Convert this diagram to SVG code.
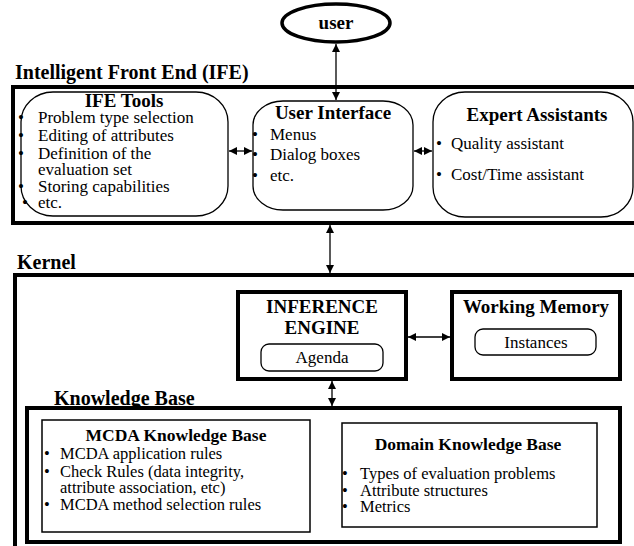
<svg xmlns="http://www.w3.org/2000/svg" width="634" height="546" viewBox="0 0 634 546" font-family="'Liberation Serif', 'DejaVu Serif', 'Times New Roman', serif">
<style>
text{font-family:'Liberation Serif','DejaVu Serif','Times New Roman',serif;fill:#000}
.sec{font-size:20px;font-weight:bold}
.ttl{font-size:19px;font-weight:bold}
.sub{font-size:17.5px;font-weight:bold}
.b17{font-size:17px}
.b16{font-size:16.5px}
.mid{text-anchor:middle}
.thick{fill:none;stroke:#000;stroke-width:4}
.thin{fill:#fff;stroke:#000;stroke-width:1.3}
.conn{stroke:#000;stroke-width:1.3;fill:none;marker-start:url(#ah);marker-end:url(#ah)}
</style>
<defs>
<marker id="ah" viewBox="0 0 10 10" refX="10" refY="5" markerWidth="9" markerHeight="8" markerUnits="userSpaceOnUse" orient="auto-start-reverse">
<path d="M0,0 L10,5 L0,10 z" fill="#000"/>
</marker>
</defs>
<rect width="634" height="546" fill="#fff"/>

<g id="user">
<ellipse cx="336" cy="23" rx="54" ry="19" fill="#fff" stroke="#000" stroke-width="3.5"/>
<text class="ttl mid" x="336" y="29">user</text>
</g>

<g id="ife">
<text class="sec" x="15" y="79">Intelligent Front End (IFE)</text>
<rect class="thick" x="13" y="87" width="630" height="136"/>
</g>

<g id="ife-tools">
<rect class="thin" x="21" y="92" width="207" height="124" rx="32" ry="30"/>
<text class="ttl mid" x="124" y="107">IFE Tools</text>
<text class="b17" x="18" y="123">•</text><text class="b17" x="38" y="123">Problem type selection</text>
<text class="b17" x="18" y="141">•</text><text class="b17" x="38" y="141">Editing of attributes</text>
<text class="b17" x="18" y="159">•</text><text class="b17" x="38" y="159">Definition of the</text>
<text class="b17" x="38" y="175">evaluation set</text>
<text class="b17" x="18" y="192">•</text><text class="b17" x="38" y="192">Storing capabilities</text>
<text class="b17" x="22" y="208">•</text><text class="b17" x="38" y="208">etc.</text>
</g>

<g id="user-interface">
<rect class="thin" x="253" y="101" width="160" height="109" rx="30" ry="24"/>
<text class="ttl mid" x="333" y="119">User Interface</text>
<text class="b17" x="252" y="140">•</text><text class="b17" x="270" y="140">Menus</text>
<text class="b17" x="252" y="160">•</text><text class="b17" x="270" y="160">Dialog boxes</text>
<text class="b17" x="252" y="181">•</text><text class="b17" x="270" y="181">etc.</text>
</g>

<g id="expert-assistants">
<rect class="thin" x="433" y="92" width="200" height="125" rx="32" ry="30"/>
<text class="ttl mid" x="537" y="121">Expert Assistants</text>
<text class="b17" x="436" y="149">•</text><text class="b17" x="451" y="149">Quality assistant</text>
<text class="b17" x="436" y="180">•</text><text class="b17" x="451" y="180">Cost/Time assistant</text>
</g>

<g id="kernel">
<text class="sec" x="17" y="269">Kernel</text>
<rect class="thick" x="15" y="275" width="630" height="290"/>
</g>

<g id="inference-engine">
<rect class="thick" x="238" y="292" width="168" height="87" fill="#fff"/>
<text class="ttl mid" x="322" y="313">INFERENCE</text>
<text class="ttl mid" x="322" y="334">ENGINE</text>
<rect class="thin" x="261" y="344" width="122" height="27" rx="8"/>
<text class="b17 mid" x="322" y="363" font-size="18">Agenda</text>
</g>

<g id="working-memory">
<rect class="thick" x="452" y="292" width="168" height="87"/>
<text class="ttl mid" x="536" y="313">Working Memory</text>
<rect class="thin" x="475" y="329" width="121" height="26" rx="8"/>
<text class="b17 mid" x="536" y="348" font-size="18">Instances</text>
</g>

<g id="knowledge-base">
<text class="sec" x="54" y="405" font-size="19">Knowledge Base</text>
<rect class="thick" x="27" y="408" width="593" height="134"/>
</g>

<g id="mcda-kb">
<rect x="42" y="420" width="268" height="112" fill="#fff" stroke="#000" stroke-width="1.5"/>
<text class="sub mid" x="176" y="441">MCDA Knowledge Base</text>
<text class="b16" x="44" y="459">•</text><text class="b16" x="60" y="459">MCDA application rules</text>
<text class="b16" x="44" y="477">•</text><text class="b16" x="60" y="477">Check Rules (data integrity,</text>
<text class="b16" x="60" y="493">attribute association, etc)</text>
<text class="b16" x="44" y="510">•</text><text class="b16" x="60" y="510">MCDA method selection rules</text>
</g>

<g id="domain-kb">
<rect x="342" y="423" width="255" height="104" fill="#fff" stroke="#000" stroke-width="1.5"/>
<text class="sub mid" x="468" y="450">Domain Knowledge Base</text>
<text class="b16" x="342" y="479">•</text><text class="b16" x="360" y="479">Types of evaluation problems</text>
<text class="b16" x="342" y="496">•</text><text class="b16" x="360" y="496">Attribute structures</text>
<text class="b16" x="342" y="512">•</text><text class="b16" x="360" y="512">Metrics</text>
</g>

<g id="connectors">
<line class="conn" x1="336" y1="44" x2="336" y2="100"/>
<line class="conn" x1="229" y1="151" x2="252" y2="151"/>
<line class="conn" x1="414" y1="151" x2="432" y2="151"/>
<line class="conn" x1="330" y1="225" x2="330" y2="273"/>
<line class="conn" x1="408" y1="337" x2="450" y2="337"/>
<line class="conn" x1="332" y1="381" x2="332" y2="406"/>
</g>
</svg>
